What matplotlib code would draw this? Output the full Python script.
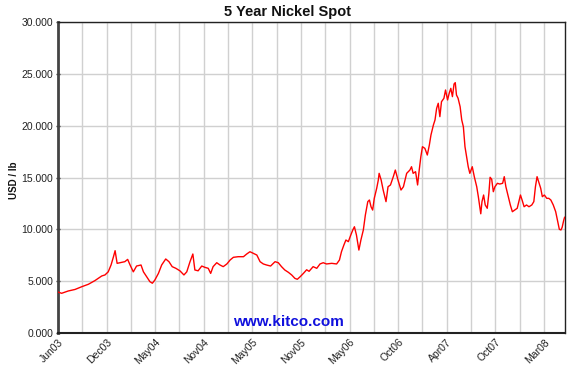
import matplotlib
matplotlib.use("Agg")
import matplotlib.pyplot as plt

# trading-day index (approx.) and nickel spot price, USD/lb
days = [0, 9, 25, 42, 59, 75, 91, 108, 116, 124, 131, 137, 141, 146, 153, 165, 172, 178, 186, 194,
        205, 211, 219, 227, 233, 239, 248, 256, 266, 274, 282, 291, 301, 311, 318, 326, 333, 338, 346, 355,
        363, 371, 377, 383, 392, 400, 408, 417, 425, 433, 445, 458, 466, 474, 482, 491, 499, 507, 515, 525,
        536, 544, 552, 560, 569, 577, 585, 591, 598, 606, 614, 620, 630, 639, 647, 655, 663, 676, 688, 695,
        700, 706, 711, 717, 723, 728, 732, 737, 743, 748, 754, 759, 765, 769, 773, 777, 781, 787, 791, 793,
        798, 803, 810, 815, 821, 828, 833, 840, 847, 853, 861, 869, 873, 877, 883, 888, 892, 896, 900, 906,
        912, 917, 921, 927, 931, 935, 939, 943, 947, 953, 957, 962, 966, 970, 974, 978, 981, 984, 988, 993,
        997, 1001, 1005, 1009, 1013, 1017, 1023, 1028, 1034, 1038, 1042, 1044, 1047, 1051, 1055, 1060, 1064, 1067, 1071, 1075,
        1079, 1085, 1091, 1098, 1102, 1106, 1112, 1117, 1122, 1128, 1134, 1138, 1142, 1146, 1151, 1157, 1163, 1170, 1175, 1179,
        1183, 1188, 1192, 1196, 1201, 1207, 1212, 1217, 1223, 1229, 1234, 1238, 1242, 1245, 1249, 1251]
price = [3.95, 3.83, 4.05, 4.2, 4.47, 4.7, 5.05, 5.5, 5.6, 5.9, 6.56, 7.36, 7.94, 6.72, 6.78, 6.88, 7.1, 6.56, 5.9, 6.46,
         6.56, 5.9, 5.43, 4.95, 4.8, 5.1, 5.75, 6.56, 7.14, 6.88, 6.4, 6.24, 6.0, 5.6, 5.9, 6.88, 7.62, 6.08, 6.0, 6.46,
         6.33, 6.24, 5.75, 6.4, 6.78, 6.56, 6.4, 6.66, 7.04, 7.3, 7.36, 7.36, 7.62, 7.84, 7.69, 7.52, 6.88, 6.66, 6.56, 6.46,
         6.88, 6.78, 6.4, 6.08, 5.85, 5.6, 5.27, 5.18, 5.43, 5.75, 6.1, 5.95, 6.4, 6.24, 6.66, 6.78, 6.66, 6.72, 6.66, 7.04,
         7.84, 8.49, 8.97, 8.81, 9.45, 9.94, 10.25, 9.45, 8.0, 8.97, 9.94, 11.38, 12.67, 12.83, 12.18, 11.86, 12.99, 13.96, 14.76, 15.4,
         14.76, 13.79, 12.67, 14.11, 14.28, 15.08, 15.72, 14.7, 13.79, 14.11, 15.4, 15.72, 16.04, 15.4, 15.56, 14.28, 15.72, 17.0, 17.97, 17.81,
         17.17, 18.13, 19.1, 20.06, 20.55, 21.67, 22.16, 20.87, 22.31, 22.64, 23.44, 22.48, 23.12, 23.6, 22.8, 24.02, 24.15, 22.96, 22.64, 21.83,
         20.55, 19.9, 17.97, 17.0, 16.04, 15.4, 16.04, 15.08, 14.11, 13.15, 12.03, 11.5, 12.67, 13.31, 12.35, 12.03, 13.47, 15.02, 14.83, 13.63,
         14.11, 14.44, 14.37, 14.44, 15.08, 14.11, 13.15, 12.35, 11.7, 11.86, 12.03, 12.67, 13.31, 12.83, 12.18, 12.35, 12.18, 12.35, 12.67, 14.11,
         15.08, 14.44, 13.96, 13.15, 13.31, 12.99, 12.99, 12.83, 12.35, 11.7, 10.74, 10.0, 9.94, 10.2, 10.9, 11.16]

grid_days = list(range(0, 1252, 60))
label_days = list(range(0, 1252, 120))
month_labels = ["Jun03", "Dec03", "May04", "Nov04", "May05", "Nov05",
                "May06", "Oct06", "Apr07", "Oct07", "Mar08"]
y_ticks = [0, 5, 10, 15, 20, 25, 30]
y_labels = ["0.000", "5.000", "10.000", "15.000", "20.000", "25.000", "30.000"]

plt.rcParams['font.family'] = ['Liberation Sans', 'DejaVu Sans']

fig = plt.figure(figsize=(5.76, 3.66), dpi=100)
ax = fig.add_axes([58/576, 1-333/366, (565-58)/576, (333-22)/366])

ax.plot(days, price, color='#ff0000', linewidth=1.0, zorder=3)

ax.set_xlim(0, 1252)
ax.set_ylim(0, 30)

ax.set_xticks(grid_days, minor=True)
ax.set_xticks(label_days)
ax.set_xticklabels(month_labels, rotation=45, ha='right', rotation_mode='anchor', fontsize=7.5, color='#222222')
ax.set_yticks(y_ticks)
ax.set_yticklabels(y_labels, fontsize=7.5, color='#222222')

ax.grid(True, which='both', axis='x', color='#d0d0d0', linewidth=1.0)
ax.grid(True, which='major', axis='y', color='#d0d0d0', linewidth=1.0)
ax.set_axisbelow(True)

ax.tick_params(axis='x', which='both', length=0, pad=3)
ax.tick_params(axis='y', length=3, direction='inout', width=1, color='#333333', pad=2)

for s in ['top', 'right']:
    ax.spines[s].set_color('#222222')
    ax.spines[s].set_linewidth(1.0)
ax.spines['left'].set_color('#444444')
ax.spines['left'].set_linewidth(2.0)
ax.spines['bottom'].set_color('#222222')
ax.spines['bottom'].set_linewidth(1.5)

fig.text(288/576, 1-12/366, "5 Year Nickel Spot", ha='center', va='center',
         fontsize=10.5, fontweight='bold', color='#111111')
fig.text(14/576, 1-180/366, "USD / lb", rotation=90, ha='center', va='center',
         fontsize=7, fontweight='bold', color='#111111')
ax.text(0.455, 0.012, "www.kitco.com", transform=ax.transAxes, ha='center', va='bottom',
        fontsize=11, fontweight='bold', color='#1010dd')

fig.savefig("out.png", dpi=100)
